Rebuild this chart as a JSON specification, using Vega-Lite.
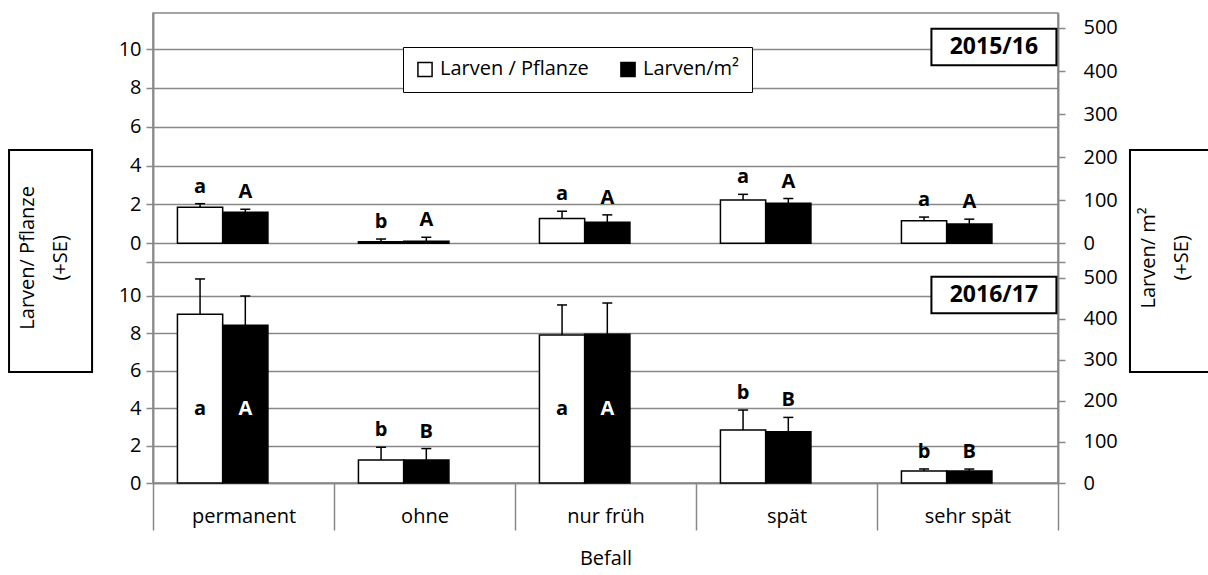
{
  "$schema": "https://vega.github.io/schema/vega-lite/v6.json",
  "width": 905,
  "height": 470,
  "autosize": {"type": "none"},
  "padding": {"left": 153, "top": 13, "right": 150, "bottom": 92},
  "background": "white",
  "config": {
    "font": "Open Sans",
    "view": {"stroke": "#888", "strokeWidth": 1.5},
    "axis": {"labelFont": "Open Sans", "labelFontSize": 20, "labelColor": "black", "domainColor": "#888", "tickColor": "#888", "gridColor": "#888", "domainWidth": 1.5, "tickWidth": 1.5, "gridWidth": 1.5, "titleFont": "Open Sans", "titleFontWeight": "normal", "titleFontSize": 20, "titleColor": "black"},
    "axisLeft": {"tickSize": 7, "labelPadding": 5},
    "axisRight": {"tickSize": 7, "labelPadding": 18},
    "axisBottom": {"tickBand": "extent", "tickSize": 47, "labelPadding": -24, "labelAngle": 0, "titlePadding": 18, "grid": false}
  },
  "data": {"values": [
    {"season": "2015/16", "cat": "permanent", "series": "Larven / Pflanze", "value": 1.85, "upper": 2.04, "letter": "a"},
    {"season": "2015/16", "cat": "permanent", "series": "Larven/m²", "value": 72, "upper": 79, "letter": "A"},
    {"season": "2015/16", "cat": "ohne", "series": "Larven / Pflanze", "value": 0.08, "upper": 0.22, "letter": "b"},
    {"season": "2015/16", "cat": "ohne", "series": "Larven/m²", "value": 5, "upper": 14, "letter": "A"},
    {"season": "2015/16", "cat": "nur früh", "series": "Larven / Pflanze", "value": 1.27, "upper": 1.65, "letter": "a"},
    {"season": "2015/16", "cat": "nur früh", "series": "Larven/m²", "value": 49, "upper": 66, "letter": "A"},
    {"season": "2015/16", "cat": "spät", "series": "Larven / Pflanze", "value": 2.23, "upper": 2.52, "letter": "a"},
    {"season": "2015/16", "cat": "spät", "series": "Larven/m²", "value": 93, "upper": 104, "letter": "A"},
    {"season": "2015/16", "cat": "sehr spät", "series": "Larven / Pflanze", "value": 1.16, "upper": 1.35, "letter": "a"},
    {"season": "2015/16", "cat": "sehr spät", "series": "Larven/m²", "value": 45, "upper": 56, "letter": "A"},
    {"season": "2016/17", "cat": "permanent", "series": "Larven / Pflanze", "value": 9.02, "upper": 10.91, "letter": "a"},
    {"season": "2016/17", "cat": "permanent", "series": "Larven/m²", "value": 385, "upper": 456, "letter": "A"},
    {"season": "2016/17", "cat": "ohne", "series": "Larven / Pflanze", "value": 1.23, "upper": 1.91, "letter": "b"},
    {"season": "2016/17", "cat": "ohne", "series": "Larven/m²", "value": 56, "upper": 84, "letter": "B"},
    {"season": "2016/17", "cat": "nur früh", "series": "Larven / Pflanze", "value": 7.91, "upper": 9.52, "letter": "a"},
    {"season": "2016/17", "cat": "nur früh", "series": "Larven/m²", "value": 363, "upper": 439, "letter": "A"},
    {"season": "2016/17", "cat": "spät", "series": "Larven / Pflanze", "value": 2.83, "upper": 3.9, "letter": "b"},
    {"season": "2016/17", "cat": "spät", "series": "Larven/m²", "value": 125, "upper": 160, "letter": "B"},
    {"season": "2016/17", "cat": "sehr spät", "series": "Larven / Pflanze", "value": 0.64, "upper": 0.75, "letter": "b"},
    {"season": "2016/17", "cat": "sehr spät", "series": "Larven/m²", "value": 29, "upper": 34, "letter": "B"}
  ]},
  "resolve": {"scale": {"y": "independent"}, "axis": {"y": "independent"}},
  "layer": [
    {
      "layer": [
        {
          "transform": [{"filter": "datum.season === '2015/16' && datum.series === 'Larven / Pflanze'"}],
          "mark": {"type": "bar", "stroke": "black", "strokeWidth": 1.5},
          "encoding": {
            "x": {"field": "cat", "type": "nominal", "scale": {"domain": ["permanent", "ohne", "nur früh", "spät", "sehr spät"], "paddingInner": 0, "paddingOuter": 0}, "title": "Befall"},
            "xOffset": {"field": "series", "type": "nominal", "scale": {"domain": ["Larven / Pflanze", "Larven/m²"], "paddingInner": 0, "paddingOuter": 1.2625, "align": 0.27}},
            "y": {"field": "value", "type": "quantitative", "scale": {"domain": [-12.337, 11.853], "nice": false}, "title": null, "axis": {"orient": "left", "values": [-0.96, 0, 2, 4, 6, 8, 10], "grid": true, "labelExpr": "datum.value < 0 ? '' : datum.label", "title": null}},
            "fill": {"field": "series", "type": "nominal", "scale": {"domain": ["Larven / Pflanze", "Larven/m²"], "range": ["white", "black"]}, "legend": {"orient": "none", "legendX": 250, "legendY": 34, "direction": "horizontal", "columns": 2, "title": null, "strokeColor": "black", "fillColor": "white", "padding": 12, "columnPadding": 28, "labelOffset": 5, "symbolType": "square", "symbolSize": 200, "symbolStrokeColor": "black", "symbolStrokeWidth": 1.5, "labelFontSize": 20, "labelFont": "Open Sans", "labelColor": "black"}}
          }
        },
        {
          "transform": [{"filter": "datum.season === '2015/16' && datum.series === 'Larven / Pflanze'"}],
          "mark": {"type": "rule", "color": "black", "strokeWidth": 1.5},
          "encoding": {
            "x": {"field": "cat", "type": "nominal", "scale": {"domain": ["permanent", "ohne", "nur früh", "spät", "sehr spät"], "paddingInner": 0, "paddingOuter": 0}, "title": "Befall"},
            "xOffset": {"field": "series", "type": "nominal", "scale": {"domain": ["Larven / Pflanze", "Larven/m²"], "paddingInner": 0, "paddingOuter": 1.2625, "align": 0.27}},
            "y": {"field": "value", "type": "quantitative", "scale": {"domain": [-12.337, 11.853], "nice": false}, "title": null},
            "y2": {"field": "upper"}
          }
        },
        {
          "transform": [{"filter": "datum.season === '2015/16' && datum.series === 'Larven / Pflanze'"}],
          "mark": {"type": "tick", "orient": "horizontal", "size": 10, "thickness": 1.5, "color": "black", "opacity": 1},
          "encoding": {
            "x": {"field": "cat", "type": "nominal", "scale": {"domain": ["permanent", "ohne", "nur früh", "spät", "sehr spät"], "paddingInner": 0, "paddingOuter": 0}, "title": "Befall"},
            "xOffset": {"field": "series", "type": "nominal", "scale": {"domain": ["Larven / Pflanze", "Larven/m²"], "paddingInner": 0, "paddingOuter": 1.2625, "align": 0.27}},
            "y": {"field": "upper", "type": "quantitative", "scale": {"domain": [-12.337, 11.853], "nice": false}, "title": null}
          }
        },
        {
          "transform": [{"filter": "datum.season === '2015/16' && datum.series === 'Larven / Pflanze'"}],
          "mark": {"type": "text", "fontSize": 20, "fontWeight": "bold", "baseline": "middle", "dy": -17, "color": "black"},
          "encoding": {
            "x": {"field": "cat", "type": "nominal", "scale": {"domain": ["permanent", "ohne", "nur früh", "spät", "sehr spät"], "paddingInner": 0, "paddingOuter": 0}, "title": "Befall"},
            "xOffset": {"field": "series", "type": "nominal", "scale": {"domain": ["Larven / Pflanze", "Larven/m²"], "paddingInner": 0, "paddingOuter": 1.2625, "align": 0.27}},
            "y": {"field": "upper", "type": "quantitative", "scale": {"domain": [-12.337, 11.853], "nice": false}, "title": null},
            "text": {"field": "letter"}
          }
        },
        {
          "data": {"values": [{"panel": "2015/16"}]},
          "mark": {"type": "point", "shape": "M-1,-0.292 L1,-0.292 L1,0.292 L-1,0.292 Z", "size": 15625, "filled": true, "fill": "white", "stroke": "black", "strokeWidth": 2, "opacity": 1},
          "encoding": {
            "x": {"datum": "sehr spät", "type": "nominal", "bandPosition": 0.646},
            "y": {"datum": 10.1, "type": "quantitative", "scale": {"domain": [-12.337, 11.853], "nice": false}, "title": null}
          }
        },
        {
          "data": {"values": [{"panel": "2015/16"}]},
          "mark": {"type": "text", "fontSize": 23, "fontWeight": "bold", "align": "center", "baseline": "middle", "color": "black"},
          "encoding": {
            "x": {"datum": "sehr spät", "type": "nominal", "bandPosition": 0.646},
            "y": {"datum": 10.1, "type": "quantitative", "scale": {"domain": [-12.337, 11.853], "nice": false}, "title": null},
            "text": {"field": "panel"}
          }
        },
        {
          "data": {"values": [{"label": "Larven/ Pflanze\n(+SE)"}]},
          "mark": {"type": "point", "shape": "M-0.374,-1 L0.374,-1 L0.374,1 L-0.374,1 Z", "size": 49284, "filled": true, "fill": "white", "stroke": "black", "strokeWidth": 2, "opacity": 1},
          "encoding": {
            "x": {"datum": "permanent", "type": "nominal", "bandPosition": -0.566},
            "y": {"datum": -0.91, "type": "quantitative", "scale": {"domain": [-12.337, 11.853], "nice": false}, "title": null}
          }
        },
        {
          "data": {"values": [{"label": "Larven/ Pflanze\n(+SE)"}]},
          "mark": {"type": "text", "fontSize": 20, "angle": 270, "align": "center", "baseline": "middle", "lineBreak": "\n", "lineHeight": 33, "color": "black"},
          "encoding": {
            "x": {"datum": "permanent", "type": "nominal", "bandPosition": -0.69},
            "y": {"datum": -0.75, "type": "quantitative", "scale": {"domain": [-12.337, 11.853], "nice": false}, "title": null},
            "text": {"field": "label"}
          }
        },
        {
          "data": {"values": [{"label": "Larven/ m²\n(+SE)"}]},
          "mark": {"type": "point", "shape": "M-0.374,-1 L0.374,-1 L0.374,1 L-0.374,1 Z", "size": 49284, "filled": true, "fill": "white", "stroke": "black", "strokeWidth": 2, "opacity": 1},
          "encoding": {
            "x": {"datum": "sehr spät", "type": "nominal", "bandPosition": 1.627},
            "y": {"datum": -0.91, "type": "quantitative", "scale": {"domain": [-12.337, 11.853], "nice": false}, "title": null}
          }
        },
        {
          "data": {"values": [{"label": "Larven/ m²\n(+SE)"}]},
          "mark": {"type": "text", "fontSize": 20, "angle": 270, "align": "center", "baseline": "middle", "lineBreak": "\n", "lineHeight": 33, "color": "black"},
          "encoding": {
            "x": {"datum": "sehr spät", "type": "nominal", "bandPosition": 1.505},
            "y": {"datum": -0.75, "type": "quantitative", "scale": {"domain": [-12.337, 11.853], "nice": false}, "title": null},
            "text": {"field": "label"}
          }
        }
      ]
    },
    {
      "layer": [
        {
          "transform": [{"filter": "datum.season === '2015/16' && datum.series === 'Larven/m²'"}],
          "mark": {"type": "bar", "stroke": "black", "strokeWidth": 1.5},
          "encoding": {
            "x": {"field": "cat", "type": "nominal", "scale": {"domain": ["permanent", "ohne", "nur früh", "spät", "sehr spät"], "paddingInner": 0, "paddingOuter": 0}, "title": "Befall"},
            "xOffset": {"field": "series", "type": "nominal", "scale": {"domain": ["Larven / Pflanze", "Larven/m²"], "paddingInner": 0, "paddingOuter": 1.2625, "align": 0.27}},
            "y": {"field": "value", "type": "quantitative", "scale": {"domain": [-556.7, 534.8], "nice": false}, "title": null, "axis": {"orient": "right", "values": [-43.4, 0, 100, 200, 300, 400, 500], "grid": false, "labelExpr": "datum.value < 0 ? '' : datum.label", "title": null}},
            "fill": {"field": "series", "type": "nominal", "scale": {"domain": ["Larven / Pflanze", "Larven/m²"], "range": ["white", "black"]}, "legend": {"orient": "none", "legendX": 250, "legendY": 34, "direction": "horizontal", "columns": 2, "title": null, "strokeColor": "black", "fillColor": "white", "padding": 12, "columnPadding": 28, "labelOffset": 5, "symbolType": "square", "symbolSize": 200, "symbolStrokeColor": "black", "symbolStrokeWidth": 1.5, "labelFontSize": 20, "labelFont": "Open Sans", "labelColor": "black"}}
          }
        },
        {
          "transform": [{"filter": "datum.season === '2015/16' && datum.series === 'Larven/m²'"}],
          "mark": {"type": "rule", "color": "black", "strokeWidth": 1.5},
          "encoding": {
            "x": {"field": "cat", "type": "nominal", "scale": {"domain": ["permanent", "ohne", "nur früh", "spät", "sehr spät"], "paddingInner": 0, "paddingOuter": 0}, "title": "Befall"},
            "xOffset": {"field": "series", "type": "nominal", "scale": {"domain": ["Larven / Pflanze", "Larven/m²"], "paddingInner": 0, "paddingOuter": 1.2625, "align": 0.27}},
            "y": {"field": "value", "type": "quantitative", "scale": {"domain": [-556.7, 534.8], "nice": false}, "title": null},
            "y2": {"field": "upper"}
          }
        },
        {
          "transform": [{"filter": "datum.season === '2015/16' && datum.series === 'Larven/m²'"}],
          "mark": {"type": "tick", "orient": "horizontal", "size": 10, "thickness": 1.5, "color": "black", "opacity": 1},
          "encoding": {
            "x": {"field": "cat", "type": "nominal", "scale": {"domain": ["permanent", "ohne", "nur früh", "spät", "sehr spät"], "paddingInner": 0, "paddingOuter": 0}, "title": "Befall"},
            "xOffset": {"field": "series", "type": "nominal", "scale": {"domain": ["Larven / Pflanze", "Larven/m²"], "paddingInner": 0, "paddingOuter": 1.2625, "align": 0.27}},
            "y": {"field": "upper", "type": "quantitative", "scale": {"domain": [-556.7, 534.8], "nice": false}, "title": null}
          }
        },
        {
          "transform": [{"filter": "datum.season === '2015/16' && datum.series === 'Larven/m²'"}],
          "mark": {"type": "text", "fontSize": 20, "fontWeight": "bold", "baseline": "middle", "dy": -17, "color": "black"},
          "encoding": {
            "x": {"field": "cat", "type": "nominal", "scale": {"domain": ["permanent", "ohne", "nur früh", "spät", "sehr spät"], "paddingInner": 0, "paddingOuter": 0}, "title": "Befall"},
            "xOffset": {"field": "series", "type": "nominal", "scale": {"domain": ["Larven / Pflanze", "Larven/m²"], "paddingInner": 0, "paddingOuter": 1.2625, "align": 0.27}},
            "y": {"field": "upper", "type": "quantitative", "scale": {"domain": [-556.7, 534.8], "nice": false}, "title": null},
            "text": {"field": "letter"}
          }
        }
      ]
    },
    {
      "layer": [
        {
          "transform": [{"filter": "datum.season === '2016/17' && datum.series === 'Larven / Pflanze'"}],
          "mark": {"type": "bar", "stroke": "black", "strokeWidth": 1.5},
          "encoding": {
            "x": {"field": "cat", "type": "nominal", "scale": {"domain": ["permanent", "ohne", "nur früh", "spät", "sehr spät"], "paddingInner": 0, "paddingOuter": 0}, "title": "Befall"},
            "xOffset": {"field": "series", "type": "nominal", "scale": {"domain": ["Larven / Pflanze", "Larven/m²"], "paddingInner": 0, "paddingOuter": 1.2625, "align": 0.27}},
            "y": {"field": "value", "type": "quantitative", "scale": {"domain": [0, 25.13], "nice": false}, "title": null, "axis": {"orient": "left", "values": [0, 2, 4, 6, 8, 10], "grid": true, "title": null}},
            "fill": {"field": "series", "type": "nominal", "scale": {"domain": ["Larven / Pflanze", "Larven/m²"], "range": ["white", "black"]}, "legend": {"orient": "none", "legendX": 250, "legendY": 34, "direction": "horizontal", "columns": 2, "title": null, "strokeColor": "black", "fillColor": "white", "padding": 12, "columnPadding": 28, "labelOffset": 5, "symbolType": "square", "symbolSize": 200, "symbolStrokeColor": "black", "symbolStrokeWidth": 1.5, "labelFontSize": 20, "labelFont": "Open Sans", "labelColor": "black"}}
          }
        },
        {
          "transform": [{"filter": "datum.season === '2016/17' && datum.series === 'Larven / Pflanze'"}],
          "mark": {"type": "rule", "color": "black", "strokeWidth": 1.5},
          "encoding": {
            "x": {"field": "cat", "type": "nominal", "scale": {"domain": ["permanent", "ohne", "nur früh", "spät", "sehr spät"], "paddingInner": 0, "paddingOuter": 0}, "title": "Befall"},
            "xOffset": {"field": "series", "type": "nominal", "scale": {"domain": ["Larven / Pflanze", "Larven/m²"], "paddingInner": 0, "paddingOuter": 1.2625, "align": 0.27}},
            "y": {"field": "value", "type": "quantitative", "scale": {"domain": [0, 25.13], "nice": false}, "title": null},
            "y2": {"field": "upper"}
          }
        },
        {
          "transform": [{"filter": "datum.season === '2016/17' && datum.series === 'Larven / Pflanze'"}],
          "mark": {"type": "tick", "orient": "horizontal", "size": 10, "thickness": 1.5, "color": "black", "opacity": 1},
          "encoding": {
            "x": {"field": "cat", "type": "nominal", "scale": {"domain": ["permanent", "ohne", "nur früh", "spät", "sehr spät"], "paddingInner": 0, "paddingOuter": 0}, "title": "Befall"},
            "xOffset": {"field": "series", "type": "nominal", "scale": {"domain": ["Larven / Pflanze", "Larven/m²"], "paddingInner": 0, "paddingOuter": 1.2625, "align": 0.27}},
            "y": {"field": "upper", "type": "quantitative", "scale": {"domain": [0, 25.13], "nice": false}, "title": null}
          }
        },
        {
          "transform": [{"filter": "datum.season === '2016/17' && datum.series === 'Larven / Pflanze' && datum.letter !== 'a'"}],
          "mark": {"type": "text", "fontSize": 20, "fontWeight": "bold", "baseline": "middle", "dy": -17, "color": "black"},
          "encoding": {
            "x": {"field": "cat", "type": "nominal", "scale": {"domain": ["permanent", "ohne", "nur früh", "spät", "sehr spät"], "paddingInner": 0, "paddingOuter": 0}, "title": "Befall"},
            "xOffset": {"field": "series", "type": "nominal", "scale": {"domain": ["Larven / Pflanze", "Larven/m²"], "paddingInner": 0, "paddingOuter": 1.2625, "align": 0.27}},
            "y": {"field": "upper", "type": "quantitative", "scale": {"domain": [0, 25.13], "nice": false}, "title": null},
            "text": {"field": "letter"}
          }
        },
        {
          "transform": [{"filter": "datum.season === '2016/17' && datum.series === 'Larven / Pflanze' && datum.letter === 'a'"}],
          "mark": {"type": "text", "fontSize": 20, "fontWeight": "bold", "baseline": "middle", "color": "black"},
          "encoding": {
            "x": {"field": "cat", "type": "nominal", "scale": {"domain": ["permanent", "ohne", "nur früh", "spät", "sehr spät"], "paddingInner": 0, "paddingOuter": 0}, "title": "Befall"},
            "xOffset": {"field": "series", "type": "nominal", "scale": {"domain": ["Larven / Pflanze", "Larven/m²"], "paddingInner": 0, "paddingOuter": 1.2625, "align": 0.27}},
            "y": {"datum": 3.95, "type": "quantitative", "scale": {"domain": [0, 25.13], "nice": false}, "title": null},
            "text": {"field": "letter"}
          }
        },
        {
          "data": {"values": [{"panel": "2016/17"}]},
          "mark": {"type": "point", "shape": "M-1,-0.292 L1,-0.292 L1,0.292 L-1,0.292 Z", "size": 15625, "filled": true, "fill": "white", "stroke": "black", "strokeWidth": 2, "opacity": 1},
          "encoding": {
            "x": {"datum": "sehr spät", "type": "nominal", "bandPosition": 0.646},
            "y": {"datum": 10.05, "type": "quantitative", "scale": {"domain": [0, 25.13], "nice": false}, "title": null}
          }
        },
        {
          "data": {"values": [{"panel": "2016/17"}]},
          "mark": {"type": "text", "fontSize": 23, "fontWeight": "bold", "align": "center", "baseline": "middle", "color": "black"},
          "encoding": {
            "x": {"datum": "sehr spät", "type": "nominal", "bandPosition": 0.646},
            "y": {"datum": 10.05, "type": "quantitative", "scale": {"domain": [0, 25.13], "nice": false}, "title": null},
            "text": {"field": "panel"}
          }
        }
      ]
    },
    {
      "layer": [
        {
          "transform": [{"filter": "datum.season === '2016/17' && datum.series === 'Larven/m²'"}],
          "mark": {"type": "bar", "stroke": "black", "strokeWidth": 1.5},
          "encoding": {
            "x": {"field": "cat", "type": "nominal", "scale": {"domain": ["permanent", "ohne", "nur früh", "spät", "sehr spät"], "paddingInner": 0, "paddingOuter": 0}, "title": "Befall"},
            "xOffset": {"field": "series", "type": "nominal", "scale": {"domain": ["Larven / Pflanze", "Larven/m²"], "paddingInner": 0, "paddingOuter": 1.2625, "align": 0.27}},
            "y": {"field": "value", "type": "quantitative", "scale": {"domain": [0, 1146.3], "nice": false}, "title": null, "axis": {"orient": "right", "values": [0, 100, 200, 300, 400, 500], "grid": false, "title": null}},
            "fill": {"field": "series", "type": "nominal", "scale": {"domain": ["Larven / Pflanze", "Larven/m²"], "range": ["white", "black"]}, "legend": {"orient": "none", "legendX": 250, "legendY": 34, "direction": "horizontal", "columns": 2, "title": null, "strokeColor": "black", "fillColor": "white", "padding": 12, "columnPadding": 28, "labelOffset": 5, "symbolType": "square", "symbolSize": 200, "symbolStrokeColor": "black", "symbolStrokeWidth": 1.5, "labelFontSize": 20, "labelFont": "Open Sans", "labelColor": "black"}}
          }
        },
        {
          "transform": [{"filter": "datum.season === '2016/17' && datum.series === 'Larven/m²'"}],
          "mark": {"type": "rule", "color": "black", "strokeWidth": 1.5},
          "encoding": {
            "x": {"field": "cat", "type": "nominal", "scale": {"domain": ["permanent", "ohne", "nur früh", "spät", "sehr spät"], "paddingInner": 0, "paddingOuter": 0}, "title": "Befall"},
            "xOffset": {"field": "series", "type": "nominal", "scale": {"domain": ["Larven / Pflanze", "Larven/m²"], "paddingInner": 0, "paddingOuter": 1.2625, "align": 0.27}},
            "y": {"field": "value", "type": "quantitative", "scale": {"domain": [0, 1146.3], "nice": false}, "title": null},
            "y2": {"field": "upper"}
          }
        },
        {
          "transform": [{"filter": "datum.season === '2016/17' && datum.series === 'Larven/m²'"}],
          "mark": {"type": "tick", "orient": "horizontal", "size": 10, "thickness": 1.5, "color": "black", "opacity": 1},
          "encoding": {
            "x": {"field": "cat", "type": "nominal", "scale": {"domain": ["permanent", "ohne", "nur früh", "spät", "sehr spät"], "paddingInner": 0, "paddingOuter": 0}, "title": "Befall"},
            "xOffset": {"field": "series", "type": "nominal", "scale": {"domain": ["Larven / Pflanze", "Larven/m²"], "paddingInner": 0, "paddingOuter": 1.2625, "align": 0.27}},
            "y": {"field": "upper", "type": "quantitative", "scale": {"domain": [0, 1146.3], "nice": false}, "title": null}
          }
        },
        {
          "transform": [{"filter": "datum.season === '2016/17' && datum.series === 'Larven/m²' && datum.letter !== 'A'"}],
          "mark": {"type": "text", "fontSize": 20, "fontWeight": "bold", "baseline": "middle", "dy": -17, "color": "black"},
          "encoding": {
            "x": {"field": "cat", "type": "nominal", "scale": {"domain": ["permanent", "ohne", "nur früh", "spät", "sehr spät"], "paddingInner": 0, "paddingOuter": 0}, "title": "Befall"},
            "xOffset": {"field": "series", "type": "nominal", "scale": {"domain": ["Larven / Pflanze", "Larven/m²"], "paddingInner": 0, "paddingOuter": 1.2625, "align": 0.27}},
            "y": {"field": "upper", "type": "quantitative", "scale": {"domain": [0, 1146.3], "nice": false}, "title": null},
            "text": {"field": "letter"}
          }
        },
        {
          "transform": [{"filter": "datum.season === '2016/17' && datum.series === 'Larven/m²' && datum.letter === 'A'"}],
          "mark": {"type": "text", "fontSize": 20, "fontWeight": "bold", "baseline": "middle", "color": "white"},
          "encoding": {
            "x": {"field": "cat", "type": "nominal", "scale": {"domain": ["permanent", "ohne", "nur früh", "spät", "sehr spät"], "paddingInner": 0, "paddingOuter": 0}, "title": "Befall"},
            "xOffset": {"field": "series", "type": "nominal", "scale": {"domain": ["Larven / Pflanze", "Larven/m²"], "paddingInner": 0, "paddingOuter": 1.2625, "align": 0.27}},
            "y": {"datum": 180, "type": "quantitative", "scale": {"domain": [0, 1146.3], "nice": false}, "title": null},
            "text": {"field": "letter"}
          }
        }
      ]
    }
  ]
}
